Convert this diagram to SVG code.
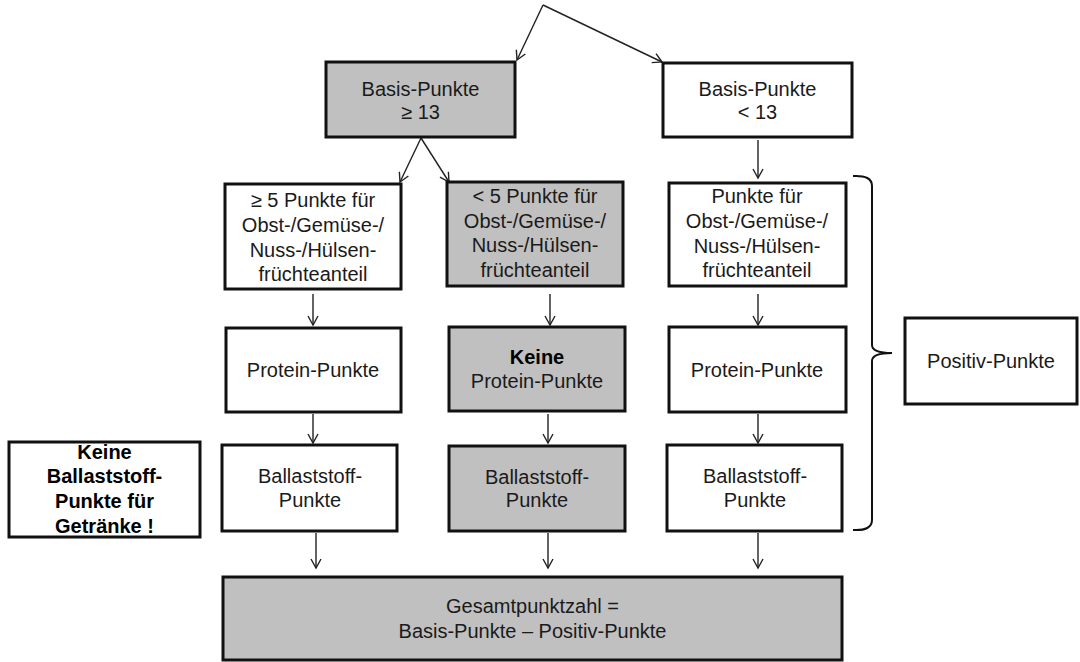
<svg xmlns="http://www.w3.org/2000/svg" width="1080" height="662" viewBox="0 0 1080 662">
<style>
.box{stroke:#111;stroke-width:3;fill:#fff}
.g{fill:#c0c0c0}
.t{font-family:"Liberation Sans",Arial,sans-serif;font-size:20px;fill:#1a1a1a;text-anchor:middle}
.b{font-weight:bold;fill:#000}
.c{stroke:#222;stroke-width:1.4;fill:none}
</style>
<defs>
<marker id="ah" markerWidth="12" markerHeight="12" refX="10" refY="6" orient="auto" markerUnits="userSpaceOnUse">
<path d="M1,1 L10,6 L1,11" fill="none" stroke="#222" stroke-width="1.4"/>
</marker>
</defs>
<rect width="1080" height="662" fill="#fff"/>
<g id="connectors">
<path class="c" d="M543,5 L517,60" marker-end="url(#ah)"/>
<path class="c" d="M543,5 L662,62" marker-end="url(#ah)"/>
<path class="c" d="M421,138 L400,182" marker-end="url(#ah)"/>
<path class="c" d="M421,138 L449,182" marker-end="url(#ah)"/>
<path class="c" d="M758,140 L758,178" marker-end="url(#ah)"/>
<path class="c" d="M313,294 L313,325" marker-end="url(#ah)"/>
<path class="c" d="M550,294 L550,325" marker-end="url(#ah)"/>
<path class="c" d="M758,294 L758,325" marker-end="url(#ah)"/>
<path class="c" d="M313,414 L313,443" marker-end="url(#ah)"/>
<path class="c" d="M548,414 L548,443" marker-end="url(#ah)"/>
<path class="c" d="M758,414 L758,443" marker-end="url(#ah)"/>
<path class="c" d="M316,533 L316,568" marker-end="url(#ah)"/>
<path class="c" d="M548,533 L548,568" marker-end="url(#ah)"/>
<path class="c" d="M758,533 L758,568" marker-end="url(#ah)"/>
<path id="brace" d="M853,176 Q872,175 872,186 L872,345 Q872,353 892,353 Q872,353 872,361 L872,520 Q872,531 853,530" fill="none" stroke="#111" stroke-width="2"/>
</g>
<g id="basis-ge13"><rect class="box g" x="326" y="62" width="189" height="75"/><text class="t" x="420.5" y="96">Basis-Punkte</text><text class="t" x="420.5" y="119">≥ 13</text></g>
<g id="basis-lt13"><rect class="box" x="663" y="63" width="189" height="74"/><text class="t" x="757.5" y="96">Basis-Punkte</text><text class="t" x="757.5" y="119">&lt; 13</text></g>
<g id="ogn-ge5"><rect class="box" x="225" y="184" width="176" height="105"/><text class="t" x="313" y="207">≥ 5 Punkte für</text><text class="t" x="313" y="232">Obst-/Gemüse-/</text><text class="t" x="313" y="257">Nuss-/Hülsen-</text><text class="t" x="313" y="281">früchteanteil</text></g>
<g id="ogn-lt5"><rect class="box g" x="447" y="182" width="176" height="104"/><text class="t" x="535" y="203">&lt; 5 Punkte für</text><text class="t" x="535" y="228">Obst-/Gemüse-/</text><text class="t" x="535" y="252">Nuss-/Hülsen-</text><text class="t" x="535" y="277">früchteanteil</text></g>
<g id="ogn-r"><rect class="box" x="669" y="183" width="177" height="103"/><text class="t" x="757" y="203">Punkte für</text><text class="t" x="757" y="228">Obst-/Gemüse-/</text><text class="t" x="757" y="253">Nuss-/Hülsen-</text><text class="t" x="757" y="277">früchteanteil</text></g>
<g id="protein-l"><rect class="box" x="226" y="328" width="175" height="84"/><text class="t" x="313" y="377">Protein-Punkte</text></g>
<g id="protein-m"><rect class="box g" x="449" y="327" width="176" height="84"/><text class="t b" x="537" y="364">Keine</text><text class="t" x="537" y="388">Protein-Punkte</text></g>
<g id="protein-r"><rect class="box" x="669" y="327" width="177" height="85"/><text class="t" x="757" y="377">Protein-Punkte</text></g>
<g id="ballast-l"><rect class="box" x="222" y="445" width="175" height="86"/><text class="t" x="310" y="483">Ballaststoff-</text><text class="t" x="310" y="507">Punkte</text></g>
<g id="ballast-m"><rect class="box g" x="449" y="446" width="176" height="85"/><text class="t" x="537" y="484">Ballaststoff-</text><text class="t" x="537" y="507">Punkte</text></g>
<g id="ballast-r"><rect class="box" x="667" y="445" width="175" height="86"/><text class="t" x="755" y="483">Ballaststoff-</text><text class="t" x="755" y="507">Punkte</text></g>
<g id="note"><rect class="box" x="9" y="442" width="191" height="95"/><text class="t b" x="104.5" y="459">Keine</text><text class="t b" x="104.5" y="483">Ballaststoff-</text><text class="t b" x="104.5" y="508">Punkte für</text><text class="t b" x="104.5" y="533">Getränke !</text></g>
<g id="positiv"><rect class="box" x="905" y="318" width="172" height="86"/><text class="t" x="991" y="368">Positiv-Punkte</text></g>
<g id="gesamt"><rect class="box g" x="223" y="577" width="619" height="83"/><text class="t" x="532.5" y="613">Gesamtpunktzahl =</text><text class="t" x="532.5" y="638">Basis-Punkte – Positiv-Punkte</text></g>
</svg>
